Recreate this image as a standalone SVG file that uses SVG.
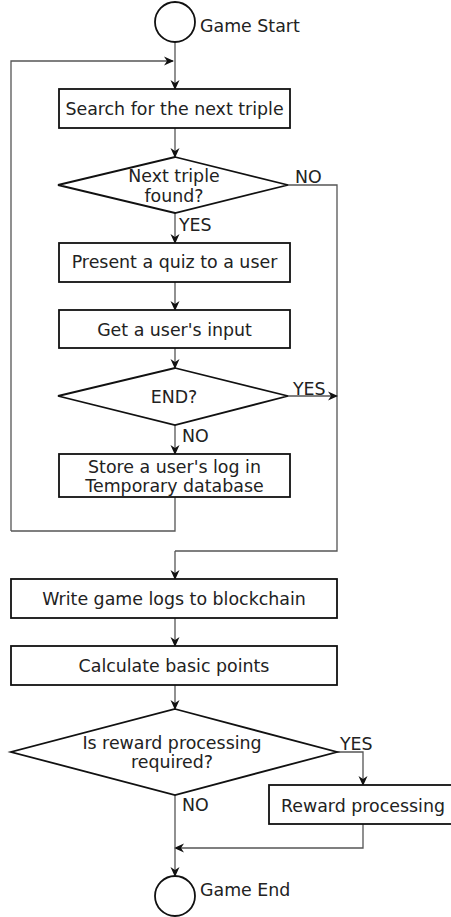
<svg xmlns="http://www.w3.org/2000/svg" width="451" height="917" viewBox="0 0 451 917">
  <style>
    .shape { fill: #ffffff; stroke: #111111; stroke-width: 1.8; }
    .conn { fill: none; stroke: #555555; stroke-width: 1.3; }
    .arrow { marker-end: url(#head); }
    text { font-family: "DejaVu Sans", Verdana, sans-serif; font-size: 17.4px; fill: #222222; }
    .c { text-anchor: middle; }
  </style>
  <defs>
    <marker id="head" viewBox="0 0 10 10" refX="9" refY="5" markerWidth="10" markerHeight="10" markerUnits="userSpaceOnUse" orient="auto">
      <path d="M0,0.5 L10,5 L0,9.5 L3,5 Z" fill="#111111"/>
    </marker>
  </defs>

  <!-- connectors -->
  <g id="connectors">
    <path class="conn arrow" d="M175,42 V89"/>
    <path class="conn arrow" d="M11,531 V61 H173"/>
    <path class="conn arrow" d="M175,128 V157"/>
    <path class="conn arrow" d="M175,213 V243"/>
    <path class="conn" d="M288,185 H337 V551 H175"/>
    <path class="conn arrow" d="M175,551 V579"/>
    <path class="conn arrow" d="M175,282 V310"/>
    <path class="conn arrow" d="M175,348 V368"/>
    <path class="conn arrow" d="M288,396 H337"/>
    <path class="conn arrow" d="M175,425 V454"/>
    <path class="conn" d="M175,497 V531 H11"/>
    <path class="conn arrow" d="M175,618 V646"/>
    <path class="conn arrow" d="M175,685 V709"/>
    <path class="conn arrow" d="M337,752 H363 V785"/>
    <path class="conn arrow" d="M363,824 V848 H175"/>
    <path class="conn arrow" d="M175,795 V876"/>
    <text x="295" y="183">NO</text>
    <text x="179" y="231">YES</text>
    <text x="293" y="395">YES</text>
    <text x="182" y="442">NO</text>
    <text x="340" y="750">YES</text>
    <text x="182" y="811">NO</text>
  </g>

  <g id="game-start">
    <circle class="shape" cx="175" cy="22" r="20"/>
    <text x="200" y="32">Game Start</text>
  </g>

  <g id="search-triple">
    <rect class="shape" x="59" y="89" width="231" height="39"/>
    <text class="c" x="174.5" y="115">Search for the next triple</text>
  </g>

  <g id="triple-found">
    <polygon class="shape" points="175,157 288,185 175,213 58,185"/>
    <text class="c" x="174" y="182">Next triple</text>
    <text class="c" x="174" y="202">found?</text>
  </g>

  <g id="present-quiz">
    <rect class="shape" x="59" y="243" width="231" height="39"/>
    <text class="c" x="174.5" y="268">Present a quiz to a user</text>
  </g>

  <g id="get-input">
    <rect class="shape" x="59" y="310" width="231" height="38"/>
    <text class="c" x="174.5" y="336">Get a user's input</text>
  </g>

  <g id="end-check">
    <polygon class="shape" points="175,368 288,396 175,425 58,396"/>
    <text class="c" x="174" y="403">END?</text>
  </g>

  <g id="store-log">
    <rect class="shape" x="59" y="454" width="231" height="43"/>
    <text class="c" x="174.5" y="473">Store a user's log in</text>
    <text class="c" x="174.5" y="492">Temporary database</text>
  </g>

  <g id="write-blockchain">
    <rect class="shape" x="11" y="579" width="326" height="39"/>
    <text class="c" x="174" y="605">Write game logs to blockchain</text>
  </g>

  <g id="basic-points">
    <rect class="shape" x="11" y="646" width="326" height="39"/>
    <text class="c" x="174" y="672">Calculate basic points</text>
  </g>

  <g id="reward-check">
    <polygon class="shape" points="175,709 337,752 175,795 11,752"/>
    <text class="c" x="172" y="749">Is reward processing</text>
    <text class="c" x="172" y="768">required?</text>
  </g>

  <g id="reward-processing">
    <rect class="shape" x="269" y="785" width="190" height="39"/>
    <text class="c" x="363" y="812">Reward processing</text>
  </g>

  <g id="game-end">
    <circle class="shape" cx="175" cy="896" r="20"/>
    <text x="200" y="896">Game End</text>
  </g>
</svg>
